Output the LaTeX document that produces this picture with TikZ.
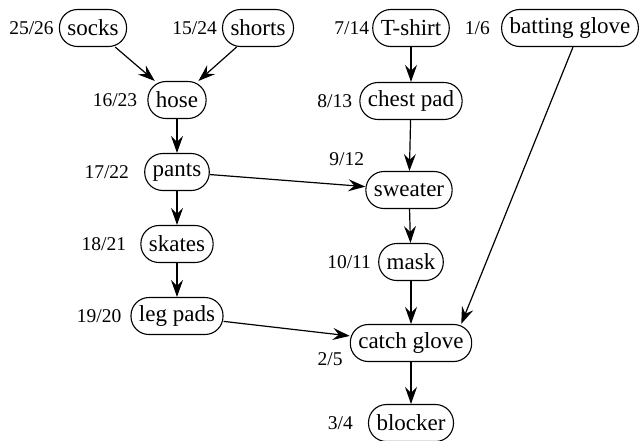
\documentclass[tikz,border=0pt]{standalone}
\usepackage{fontspec}
\setmainfont{Liberation Serif}
\usetikzlibrary{arrows.meta,positioning}
\tikzset{
    gearblock/.style={draw, rounded corners=18pt, align=center, font=\rmfamily\fontsize{23}{26}\selectfont, minimum height=37pt, inner xsep=8pt, line width=1.1pt},
    gearnote/.style={align=center, font=\rmfamily\fontsize{19.5}{22}\selectfont, inner sep=0pt},
    geararrow/.style={-{Stealth[length=17pt, width=12pt, inset=6pt]}, line width=1.2pt}
}

\begin{document}
\begin{tikzpicture}[x=1pt, y=-1pt]
        \useasboundingbox (0,0) rectangle (642,440);
        \node[gearblock] (socks) at (93,28) {socks};
        \node[gearblock] (shorts) at (258,28) {shorts};
        \node[gearblock] (hose) at (177,100) {hose};
        \node[gearblock] (pants) at (177,172) {pants};
        \node[gearblock] (skates) at (177,244) {skates};
        \node[gearblock] (legpads) at (177,316) {leg pads};
        \node[gearblock] (tshirt) at (411,28) {T-shirt};
        \node[gearblock] (bglove) at (570,28) {batting glove};
        \node[gearblock] (chestpad) at (411,101) {chest pad};
        \node[gearblock] (sweater) at (409,190) {sweater};
        \node[gearblock] (mask) at (411,262) {mask};
        \node[gearblock] (cglove) at (411,343) {catch glove};
        \node[gearblock] (blocker) at (411,423) {blocker};
        \node[gearnote, left=5pt of socks] (socksnote) {25/26};
        \node[gearnote, left=5pt of shorts] (shortsnote) {15/24};
        \node[gearnote, left=10pt of hose] (hosenote) {16/23};
        \node[gearnote, left=15pt of pants] (pantsnote) {17/22};
        \node[gearnote, left=14pt of skates] (skatesnote) {18/21};
        \node[gearnote, left=9pt of legpads] (legpadsnote) {19/20};
        \node[gearnote, left=3pt of tshirt] (tshirtnote) {7/14};
        \node[gearnote, left=11pt of bglove] (bglovenote) {1/6};
        \node[gearnote, left=7pt of chestpad] (chestpadnote) {8/13};
        \node[gearnote, above left=5pt and 1pt of sweater.north west] (sweaternote) {9/12};
        \node[gearnote, left=7pt of mask] (masknote) {10/11};
        \node[gearnote, left=7pt of cglove.south west, yshift=3pt] (cglovenote) {2/5};
        \node[gearnote, left=15pt of blocker] (blockernote) {3/4};
        \draw[geararrow] (socks) -- (hose);
        \draw[geararrow] (shorts) -- (hose);
        \draw[geararrow] (hose) -- (pants);
        \draw[geararrow] (pants) -- (skates);
        \draw[geararrow] (skates) -- (legpads);
        \draw[geararrow] (pants) -- (sweater);
        \draw[geararrow] (legpads) -- (cglove);
        \draw[geararrow] (tshirt) -- (chestpad);
        \draw[geararrow] (chestpad) -- (sweater);
        \draw[geararrow] (sweater) -- (mask);
        \draw[geararrow] (mask) -- (cglove);
        \draw[geararrow] ([xshift=3pt]bglove.south) -- ([xshift=-11pt]cglove.north east);
        \draw[geararrow] (cglove) -- (blocker);
    \end{tikzpicture}
\end{document}
